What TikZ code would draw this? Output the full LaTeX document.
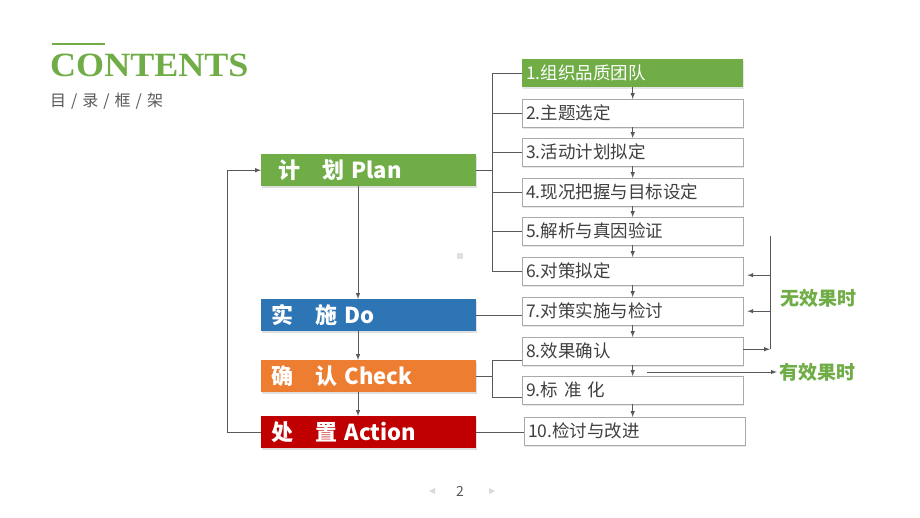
\documentclass[tikz,border=0pt]{standalone}
\usepackage{fontspec}
\setmainfont{Liberation Serif}
\newfontfamily\cjk{Noto Sans CJK SC}
\usetikzlibrary{shadows}
\tikzset{>=latex}
\definecolor{pgreen}{RGB}{112,173,71}
\definecolor{pblue}{RGB}{46,117,182}
\definecolor{porange}{RGB}{237,125,49}
\definecolor{pred}{RGB}{192,0,0}
\definecolor{linegray}{RGB}{89,89,89}
\definecolor{boxgray}{RGB}{170,170,170}
\definecolor{txtgray}{RGB}{64,64,64}
\tikzset{
  phase/.style={anchor=north west, minimum height=32pt, text width=195pt, inner xsep=10pt, inner ysep=0pt,
    text=white, font=\cjk\bfseries\fontsize{22}{22}\selectfont,
    drop shadow={opacity=.25, shadow xshift=1pt, shadow yshift=-1.5pt}},
  stepbox/.style={anchor=north west, draw=boxgray, fill=white, minimum height=28pt, text width=213pt,
    inner xsep=4pt, inner ysep=0pt, text=txtgray, font=\cjk\fontsize{17.5}{17.5}\selectfont,
    drop shadow={opacity=.2, shadow xshift=1pt, shadow yshift=-1.5pt}},
  note/.style={inner sep=2pt, text=pgreen, font=\cjk\bfseries\fontsize{19}{19}\selectfont},
  link/.style={draw=linegray, line width=1pt},
  arr/.style={link, ->},
}

\begin{document}
\begin{tikzpicture}[x=1pt, y=-1pt]
    \useasboundingbox (0,0) rectangle (920,518);
    % title
    \draw[pgreen, line width=2pt](52,44)--(105,44);
    \node[anchor=base west, inner sep=0pt, text=pgreen](title)at(50,77){\fontsize{34}{34}\selectfont\bfseries\scalebox{1.06}[1]{CONTENTS}};
    \node[anchor=west, inner sep=0pt, text=linegray, font=\cjk\fontsize{16}{16}\selectfont](subtitle)at(50,101){目\hspace{5pt}/\hspace{5pt}录\hspace{5pt}/\hspace{5pt}框\hspace{5pt}/\hspace{5pt}架};
    % PDCA phases
    \node[phase, fill=pgreen](plan)at(261,154){\hspace{7pt}计\quad 划 Plan};
    \node[phase, fill=pblue](do)at(261,299){实\quad 施 Do};
    \node[phase, fill=porange](check)at(261,360){确\quad 认 Check};
    \node[phase, fill=pred](act)at(261,416){处\quad 置 Action};
    % steps
    \node[stepbox, fill=pgreen, draw=none, text=white](s1)at(522,59){1.组织品质团队};
    \node[stepbox](s2)at(522,99){2.主题选定};
    \node[stepbox](s3)at(522,138){3.活动计划拟定};
    \node[stepbox](s4)at(522,178){4.现况把握与目标设定};
    \node[stepbox](s5)at(522,217){5.解析与真因验证};
    \node[stepbox](s6)at(522,257){6.对策拟定};
    \node[stepbox](s7)at(522,297){7.对策实施与检讨};
    \node[stepbox](s8)at(522,337){8.效果确认};
    \node[stepbox](s9)at(522,376){9.标 准 化};
    \node[stepbox](s10)at(524,417){10.检讨与改进};
    \draw[arr](s1)--(s2);
    \draw[arr](s2)--(s3);
    \draw[arr](s3)--(s4);
    \draw[arr](s4)--(s5);
    \draw[arr](s5)--(s6);
    \draw[arr](s6)--(s7);
    \draw[arr](s7)--(s8);
    \draw[arr](s8)--(s9);
    \draw[arr](s9.south)--(s9.south |- s10.north);
    % phase spine and loop back
    \coordinate(spine)at(358,0);
    \draw[arr](plan.south -| spine)--(do.north -| spine);
    \draw[arr](do.south -| spine)--(check.north -| spine);
    \draw[arr](check.south -| spine)--(act.north -| spine);
    \coordinate(loopx)at(227,0);
    \draw[arr](act.west)--(act.west -| loopx)|-(plan.west);
    % brackets to steps
    \coordinate(bus)at(492,0);
    \draw[link](plan.east)--(plan.east -| bus);
    \draw[link](s1.west -| bus)--(s6.west -| bus);
    \draw[link](s1.west -| bus)--(s1.west);
    \draw[link](s2.west -| bus)--(s2.west);
    \draw[link](s3.west -| bus)--(s3.west);
    \draw[link](s4.west -| bus)--(s4.west);
    \draw[link](s5.west -| bus)--(s5.west);
    \draw[link](s6.west -| bus)--(s6.west);
    \draw[link](do.east)--(do.east -| s7.west);
    \coordinate(c8)at([yshift=5pt]s8.south west);
    \coordinate(c9)at([yshift=-7pt]s9.west);
    \draw[link](check.east)--(check.east -| bus);
    \draw[link](c8)--(c8 -| bus)--(c9 -| bus)--(c9);
    \draw[link](act.east)--(act.east -| s10.west);
    % feedback
    \coordinate(fbtop)at(770,236);
    \coordinate(c8e)at([yshift=2pt]s8.east);
    \draw[link](fbtop)--(c8e -| fbtop);
    \draw[arr](c8e)--(c8e -| fbtop);
    \draw[arr, shorten >=4pt]([yshift=-4pt]s6.east -| fbtop)--([yshift=-4pt]s6.east);
    \draw[arr, shorten >=4pt](s7.east -| fbtop)--(s7.east);
    \node[note](noeff)at(818,298){无效果时};
    \node[note](eff)at(817,372){有效果时};
    \coordinate(effstart)at(647,372);
    \draw[arr](effstart)--(eff.west);
    % slide bits
    \fill[black!12](457,253)rectangle(463,259);
    \node[text=linegray, font=\cjk\fontsize{14}{14}\selectfont](page)at(460,491){2};
    \fill[black!15](435,488)--(429,491)--(435,494)--cycle;
    \fill[black!15](489,488)--(495,491)--(489,494)--cycle;
\end{tikzpicture}
\end{document}
